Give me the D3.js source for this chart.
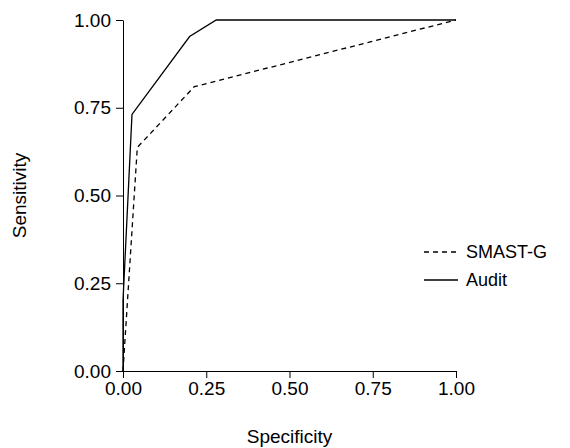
<!DOCTYPE html>
<html>
<head>
<meta charset="utf-8">
<script src="https://cdn.jsdelivr.net/npm/d3@7"></script>
<style>
html,body{margin:0;padding:0;background:#fff;}
svg{display:block;font-family:"Liberation Sans",Arial,sans-serif;}
</style>
</head>
<body>
<svg id="chart" width="570" height="448"></svg>
<script>
const seriesNames = ["SMAST-G", "Audit"];
const smastSpec = [0, 0.043, 0.214, 1];
const smastSens = [0, 0.637, 0.81, 1];
const auditSpec = [0, 0, 0.027, 0.2, 0.28, 1];
const auditSens = [0, 0.2, 0.731, 0.953, 1, 1];
const tickValues = [0, 0.25, 0.5, 0.75, 1];

const svg = d3.select("#chart");
const x = d3.scaleLinear().domain([0, 1]).range([123, 456]);
const y = d3.scaleLinear().domain([0, 1]).range([371, 20]);
const fs = 19;

const xAxis = svg.append("g").attr("transform", "translate(0,371)")
  .call(d3.axisBottom(x).tickValues(tickValues).tickFormat(d3.format(".2f")).tickSize(7).tickSizeOuter(0).tickPadding(4));
const yAxis = svg.append("g").attr("transform", "translate(123,0)")
  .call(d3.axisLeft(y).tickValues(tickValues).tickFormat(d3.format(".2f")).tickSize(7).tickSizeOuter(0).tickPadding(5));
[xAxis, yAxis].forEach(g => {
  g.selectAll("path,line").attr("stroke", "#000").attr("stroke-width", 1);
  g.selectAll("text").attr("fill", "#000").style("font-size", fs + "px").style("font-family", "'Liberation Sans',Arial,sans-serif");
});

const line = d3.line().x(d => x(d[0])).y(d => y(d[1]));
const smast = smastSpec.map((v, i) => [v, smastSens[i]]);
const audit = auditSpec.map((v, i) => [v, auditSens[i]]);

svg.append("path").datum(smast).attr("d", line).attr("fill", "none")
  .attr("stroke", "#000").attr("stroke-width", 1.3).attr("stroke-dasharray", "5,4");
svg.append("path").datum(audit).attr("d", line).attr("fill", "none")
  .attr("stroke", "#000").attr("stroke-width", 1.3);

svg.append("text").attr("x", (x(0) + x(1)) / 2).attr("y", 443).attr("text-anchor", "middle")
  .style("font-size", fs + "px").text("Specificity");
svg.append("text").attr("transform", `translate(26,${(y(0) + y(1)) / 2}) rotate(-90)`)
  .attr("text-anchor", "middle").style("font-size", fs + "px").text("Sensitivity");

const legend = svg.append("g");
const legY = [252, 280];
const dashes = ["5,4", null];
seriesNames.forEach((n, i) => {
  legend.append("line").attr("x1", 424).attr("x2", 458).attr("y1", legY[i]).attr("y2", legY[i])
    .attr("stroke", "#000").attr("stroke-width", 1.3).attr("stroke-dasharray", dashes[i]);
  legend.append("text").attr("x", 466).attr("y", legY[i]).attr("dy", "0.35em")
    .style("font-size", "18px").text(n);
});
</script>
</body>
</html>
